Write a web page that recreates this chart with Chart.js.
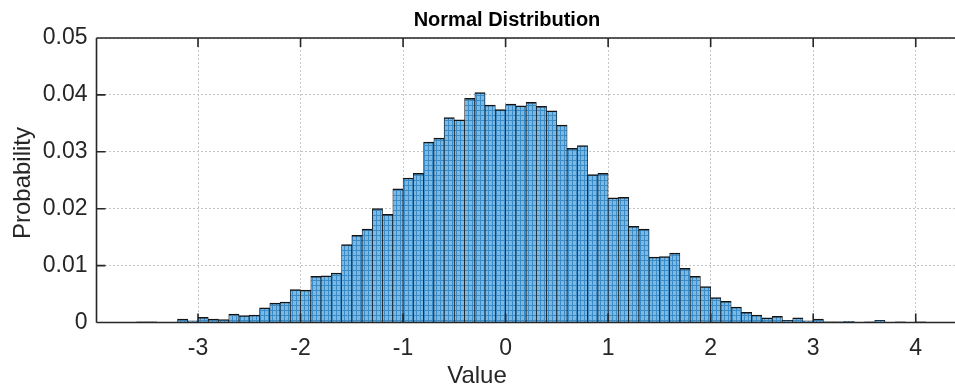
<!DOCTYPE html>
<html>
<head>
<meta charset="utf-8">
<title>Normal Distribution</title>
<style>
  html, body { margin: 0; padding: 0; background: #ffffff; overflow: hidden; }
  canvas { display: block; }
</style>
<script src="https://cdn.jsdelivr.net/npm/chart.js@4.4.1/dist/chart.umd.min.js"></script>
</head>
<body>
<canvas id="hist" width="980" height="392"></canvas>
<script>
// Histogram bins: left edge of each 0.1-wide bin
const binEdges = [
  -3.6, -3.5, -3.4, -3.3, -3.2, -3.1, -3.0, -2.9, -2.8, -2.7,
  -2.6, -2.5, -2.4, -2.3, -2.2, -2.1, -2.0, -1.9, -1.8, -1.7,
  -1.6, -1.5, -1.4, -1.3, -1.2, -1.1, -1.0, -0.9, -0.8, -0.7,
  -0.6, -0.5, -0.4, -0.3, -0.2, -0.1, 0.0, 0.1, 0.2, 0.3,
  0.4, 0.5, 0.6, 0.7, 0.8, 0.9, 1.0, 1.1, 1.2, 1.3,
  1.4, 1.5, 1.6, 1.7, 1.8, 1.9, 2.0, 2.1, 2.2, 2.3,
  2.4, 2.5, 2.6, 2.7, 2.8, 2.9, 3.0, 3.1, 3.2, 3.3,
  3.4, 3.5, 3.6, 3.7, 3.8, 3.9, 4.0
];
const binWidth = 0.1;

// Probability of each bin
const probability = [
  0.0001, 0.0001, 0.0000, 0.0000, 0.0006, 0.0003, 0.0009, 0.0006, 0.0005, 0.0015,
  0.0012, 0.0013, 0.0026, 0.0034, 0.0036, 0.0058, 0.0057, 0.0081, 0.0082, 0.0087,
  0.0137, 0.0153, 0.0164, 0.0200, 0.0190, 0.0235, 0.0254, 0.0262, 0.0317, 0.0324,
  0.0360, 0.0356, 0.0394, 0.0404, 0.0382, 0.0374, 0.0384, 0.0381, 0.0387, 0.0380,
  0.0372, 0.0347, 0.0306, 0.0311, 0.0260, 0.0262, 0.0219, 0.0220, 0.0169, 0.0164,
  0.0115, 0.0116, 0.0122, 0.0095, 0.0081, 0.0063, 0.0044, 0.0037, 0.0027, 0.0018,
  0.0013, 0.0008, 0.0011, 0.0004, 0.0008, 0.0003, 0.0006, 0.0001, 0.0001, 0.0002,
  0.0000, 0.0001, 0.0004, 0.0000, 0.0001, 0.0000, 0.0001
];

const xTicks = [-3, -2, -1, 0, 1, 2, 3, 4];
const xTickLabels = ['-3', '-2', '-1', '0', '1', '2', '3', '4'];
const yTicks = [0, 0.01, 0.02, 0.03, 0.04, 0.05];
const yTickLabels = ['0', '0.01', '0.02', '0.03', '0.04', '0.05'];

const titleText = 'Normal Distribution';
const xLabelText = 'Value';
const yLabelText = 'Probability';

const AXIS_COLOR = '#262626';
const GRID_COLOR = '#c6c6c6';
const FONT_FAMILY = '"Liberation Sans", Arial, Helvetica, sans-serif';

// Fine meshed fill used for the bar faces
function makeBarPattern() {
  const p = document.createElement('canvas');
  p.width = 4; p.height = 5;
  const g = p.getContext('2d');
  g.fillStyle = '#7db8e0';
  g.fillRect(0, 0, 4, 5);
  g.fillStyle = '#3a8cc9';
  g.fillRect(0, 0, 4, 1);
  g.fillRect(0, 0, 1, 5);
  return g.createPattern(p, 'repeat');
}

const points = binEdges.map((edge, i) => ({ x: edge + binWidth / 2, y: probability[i] }));

// Axis box lines, inward tick marks and the text around the plot
const frameAndText = {
  id: 'frameAndText',
  afterDatasetsDraw(chart) {
    const { ctx, chartArea, scales } = chart;
    const { left, top, bottom } = chartArea;
    const tickLen = 9;
    ctx.save();
    ctx.strokeStyle = AXIS_COLOR;
    ctx.lineWidth = 1.6;
    ctx.beginPath();
    ctx.moveTo(left, top); ctx.lineTo(left, bottom);
    ctx.moveTo(left, bottom); ctx.lineTo(chart.width, bottom);
    ctx.moveTo(left, top); ctx.lineTo(chart.width, top);
    scales.x.ticks.forEach(t => {
      const px = scales.x.getPixelForValue(t.value);
      ctx.moveTo(px, bottom); ctx.lineTo(px, bottom - tickLen);
      ctx.moveTo(px, top); ctx.lineTo(px, top + tickLen);
    });
    scales.y.ticks.forEach(t => {
      const py = scales.y.getPixelForValue(t.value);
      ctx.moveTo(left, py); ctx.lineTo(left + tickLen, py);
    });
    ctx.stroke();

    ctx.fillStyle = '#000000';
    ctx.textAlign = 'center';
    ctx.textBaseline = 'middle';
    ctx.font = 'bold 20px ' + FONT_FAMILY;
    ctx.fillText(titleText, 507, 20);

    ctx.fillStyle = AXIS_COLOR;
    ctx.font = '24px ' + FONT_FAMILY;
    ctx.fillText(xLabelText, 477, 376);

    ctx.translate(23, 183);
    ctx.rotate(-Math.PI / 2);
    ctx.fillText(yLabelText, 0, 0);
    ctx.restore();
  }
};

new Chart(document.getElementById('hist'), {
  type: 'bar',
  data: {
    datasets: [{
      label: 'Probability',
      data: points,
      backgroundColor: makeBarPattern(),
      borderColor: '#141414',
      borderWidth: { top: 1.5, left: 0.75, right: 0.75, bottom: 0 },
      borderSkipped: false,
      barPercentage: 1.0,
      categoryPercentage: 1.0
    }]
  },
  options: {
    responsive: false,
    animation: false,
    devicePixelRatio: 1,
    layout: { padding: { top: 38, right: 13, left: 0, bottom: 0 } },
    plugins: {
      legend: { display: false },
      title: { display: false },
      tooltip: { enabled: false }
    },
    scales: {
      x: {
        type: 'linear',
        offset: false,
        min: -3.99,
        max: 4.5,
        afterBuildTicks: s => { s.ticks = xTicks.map(v => ({ value: v })); },
        afterFit: s => { s.height = 69.5; },
        grid: {
          offset: false,
          color: GRID_COLOR,
          lineWidth: 1,
          drawTicks: false
        },
        border: { display: false, dash: [2, 2] },
        ticks: {
          padding: 12,
          color: AXIS_COLOR,
          font: { family: FONT_FAMILY, size: 23 },
          maxRotation: 0,
          autoSkip: false,
          callback: (v) => xTickLabels[xTicks.indexOf(v)]
        }
      },
      y: {
        min: 0,
        max: 0.05,
        afterBuildTicks: s => { s.ticks = yTicks.map(v => ({ value: v })); },
        afterFit: s => { s.width = 96.5; },
        grid: {
          color: GRID_COLOR,
          lineWidth: 1,
          drawTicks: false
        },
        border: { display: false, dash: [2, 2] },
        ticks: {
          padding: 9,
          color: AXIS_COLOR,
          font: { family: FONT_FAMILY, size: 23 },
          autoSkip: false,
          callback: (v) => yTickLabels[yTicks.indexOf(v)]
        }
      }
    }
  },
  plugins: [frameAndText]
});
</script>
</body>
</html>
